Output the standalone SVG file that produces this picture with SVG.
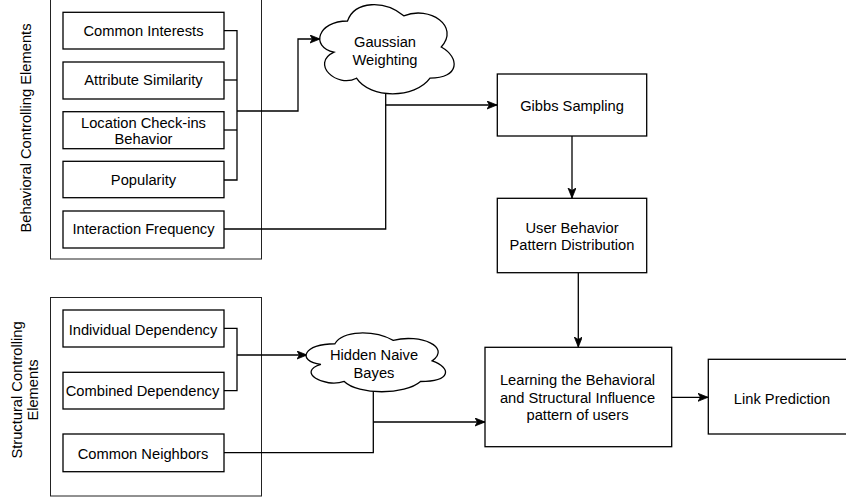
<svg xmlns="http://www.w3.org/2000/svg" width="846" height="501" viewBox="0 0 846 501">
<style>
  .box { fill: #fff; stroke: #000; stroke-width: 1.3; }
  .group { fill: #fff; stroke: #222; stroke-width: 1; }
  .cloud { fill: #fff; stroke: #000; stroke-width: 1.3; }
  .t { font-family: "Liberation Sans", Arial, sans-serif; font-size: 14.7px; fill: #000; text-anchor: middle; }
  .c { fill: none; stroke: #000; stroke-width: 1.3; }
</style>
<defs>
  <marker id="arr" markerUnits="userSpaceOnUse" markerWidth="12" markerHeight="10" refX="10" refY="4" orient="auto">
    <path d="M0,0 L10,4 L0,8 L2.5,4 Z" fill="#000" stroke="#000" stroke-width="0.8"/>
  </marker>
</defs>
<rect width="846" height="501" fill="#fff"/>

<g id="behavioral-group">
  <rect class="group" x="50.5" y="-0.5" width="211" height="259.5"/>
  <text class="t" transform="translate(25.5,128) rotate(-90)" y="5">Behavioral Controlling Elements</text>
</g>
<g id="structural-group">
  <rect class="group" x="50.5" y="297.5" width="211" height="198.5"/>
  <text class="t" transform="translate(25,390) rotate(-90)"><tspan x="0" y="-3.3">Structural Controlling</tspan><tspan x="0" y="13.3">Elements</tspan></text>
</g>

<g id="connectors">
  <path class="c" d="M224,30.7 H237 V180 H224"/>
  <path class="c" d="M224,80 H237"/>
  <path class="c" d="M224,130 H237"/>
  <path class="c" marker-end="url(#arr)" d="M237,111 H298 V39 H320"/>
  <path class="c" d="M224,229 H385.7 V93"/>
  <path class="c" marker-end="url(#arr)" d="M385.7,105 H497"/>
  <path class="c" marker-end="url(#arr)" d="M572,136 V198"/>
  <path class="c" marker-end="url(#arr)" d="M578.3,272.7 V347"/>
  <path class="c" marker-end="url(#arr)" d="M671.7,397.3 H708"/>
  <path class="c" d="M224,328.3 H237 V390.7 H224"/>
  <path class="c" marker-end="url(#arr)" d="M237,355 H307"/>
  <path class="c" d="M224,452.7 H373.3 V391"/>
  <path class="c" marker-end="url(#arr)" d="M373.3,422 H485"/>
</g>

<g id="common-interests">
  <rect class="box" x="63" y="12.3" width="161" height="36.7"/>
  <text class="t" x="143.5" y="36">Common Interests</text>
</g>
<g id="attribute-similarity">
  <rect class="box" x="63" y="62" width="161" height="37"/>
  <text class="t" x="143.5" y="85.3">Attribute Similarity</text>
</g>
<g id="location-checkins">
  <rect class="box" x="63" y="111.7" width="161" height="37"/>
  <text class="t" x="143.5" y="127.8">Location Check-ins</text>
  <text class="t" x="143.5" y="144.3">Behavior</text>
</g>
<g id="popularity">
  <rect class="box" x="63" y="161.3" width="161" height="36.4"/>
  <text class="t" x="143.5" y="185.3">Popularity</text>
</g>
<g id="interaction-frequency">
  <rect class="box" x="63" y="211" width="161" height="37"/>
  <text class="t" x="143.5" y="234.3">Interaction Frequency</text>
</g>

<g id="individual-dependency">
  <rect class="box" x="63" y="310" width="161" height="37"/>
  <text class="t" x="143" y="334.5">Individual Dependency</text>
</g>
<g id="combined-dependency">
  <rect class="box" x="63" y="372.3" width="161" height="36.7"/>
  <text class="t" x="142.5" y="396.3">Combined Dependency</text>
</g>
<g id="common-neighbors">
  <rect class="box" x="63" y="434" width="161" height="37.7"/>
  <text class="t" x="143" y="459.3">Common Neighbors</text>
</g>

<g id="gaussian-weighting">
  <path class="cloud" d="M347.5,21 C317.5,21 310,47 334,52.2 C310,63.64 337,88.6 356.5,78.2 C370,99 415,99 430,78.2 C460,78.2 460,57.4 441.25,47 C460,26.2 430,5.4 403.75,15.8 C385,0.2 355,0.2 347.5,21 Z"/>
  <text class="t" x="385" y="47">Gaussian</text>
  <text class="t" x="385" y="65">Weighting</text>
</g>
<g id="hidden-naive-bayes">
  <path class="cloud" d="M334.9,343.75 C303.78,343.75 296,360.9 320.9,364.33 C296,371.88 324,388.34 344.24,381.48 C358.24,395.2 404.92,395.2 420.48,381.48 C451.6,381.48 451.6,367.76 432.15,360.9 C451.6,347.18 420.48,333.46 393.25,340.32 C373.8,330.03 342.68,330.03 334.9,343.75 Z"/>
  <text class="t" x="374" y="360.3">Hidden Naive</text>
  <text class="t" x="374" y="378.3">Bayes</text>
</g>

<g id="gibbs-sampling">
  <rect class="box" x="497.3" y="74" width="149.4" height="62"/>
  <text class="t" x="572" y="111.3">Gibbs Sampling</text>
</g>
<g id="user-behavior">
  <rect class="box" x="497.3" y="198.3" width="149.4" height="74.4"/>
  <text class="t" x="572" y="233">User Behavior</text>
  <text class="t" x="572" y="249.6">Pattern Distribution</text>
</g>
<g id="learning">
  <rect class="box" x="485" y="347.3" width="186.7" height="99.4"/>
  <text class="t" x="577.5" y="385.3">Learning the Behavioral</text>
  <text class="t" x="577.5" y="403">and Structural Influence</text>
  <text class="t" x="577.5" y="420.3">pattern of users</text>
</g>
<g id="link-prediction">
  <rect class="box" x="708.3" y="359.3" width="150" height="74.7"/>
  <text class="t" x="782" y="403.5">Link Prediction</text>
</g>
</svg>
